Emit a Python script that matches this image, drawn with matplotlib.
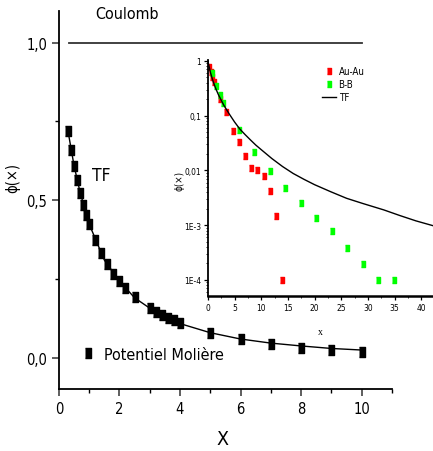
import matplotlib.pyplot as plt
from matplotlib.ticker import MultipleLocator, FixedLocator, LogLocator, NullFormatter

plt.rcParams['font.family'] = ['DejaVu Sans']
plt.rcParams['font.stretch'] = 'condensed'

# Moliere potential (main plot, squares)
mol_x = [0.3, 0.4, 0.5, 0.6, 0.7, 0.8, 0.9, 1.0, 1.2, 1.4, 1.6, 1.8, 2.0, 2.2, 2.5,
         3.0, 3.2, 3.4, 3.6, 3.8, 4.0, 5, 6, 7, 8, 9, 10]
mol_y = [0.72, 0.66, 0.61, 0.563, 0.523, 0.486, 0.453, 0.425, 0.374, 0.332, 0.297,
         0.267, 0.242, 0.220, 0.192, 0.157, 0.146, 0.135, 0.126, 0.118, 0.110,
         0.079, 0.058, 0.043, 0.032, 0.024, 0.018]

# Thomas-Fermi curve (main plot)
tf_x = [0.3, 0.5, 0.7, 1.0, 1.5, 2.0, 2.5, 3.0, 3.5, 4.0, 5, 6, 7, 8, 9, 10]
tf_y = [0.72, 0.61, 0.525, 0.424, 0.31, 0.243, 0.19, 0.157, 0.13, 0.108, 0.079,
        0.059, 0.046, 0.037, 0.029, 0.024]

# Coulomb
coul_x = [0.33, 10]
coul_y = [1.0, 1.0]

# inset data
au_x = [0.29, 0.58, 0.87, 1.16, 2.32, 3.48, 4.64, 5.8, 6.96, 8.12, 9.28, 10.44,
        11.6, 12.76, 13.92]
au_y = [0.77, 0.62, 0.50, 0.41, 0.20, 0.119, 0.0525, 0.0335, 0.0181, 0.0112,
        0.0103, 0.0079, 0.0043, 0.00147, 1e-4]
bb_x = [0.73, 1.45, 2.2, 2.9, 5.8, 8.7, 11.6, 14.5, 17.4, 20.3, 23.2, 26.1, 29.0,
        31.9, 34.8]
bb_y = [0.59, 0.354, 0.24, 0.168, 0.055, 0.0214, 0.0098, 0.0048, 0.0025, 0.00137,
        7.8e-4, 3.9e-4, 1.95e-4, 1e-4, 1e-4]
tfi_x = [0, 0.5, 1, 1.5, 2, 3, 4, 5, 6, 7, 8, 9, 10, 12, 14, 16, 18, 20, 23, 26,
         29, 33, 36, 39, 42.2]
tfi_y = [1, 0.61, 0.42, 0.31, 0.24, 0.155, 0.108, 0.077, 0.057, 0.045, 0.036,
         0.029, 0.024, 0.0165, 0.0118, 0.0088, 0.0069, 0.0055, 0.0041, 0.0031,
         0.0025, 0.0019, 0.0015, 0.0012, 0.00098]

rect = [(-0.38, -0.5), (0.38, -0.5), (0.38, 0.5), (-0.38, 0.5)]

fig = plt.figure(figsize=(4.33, 4.52), dpi=100)
ax = fig.add_axes([0.136, 0.137, 0.769, 0.836])

ax.plot(coul_x, coul_y, color='#333333', lw=1.3)
ax.plot(tf_x, tf_y, color='black', lw=1.0)
ax.plot(mol_x, mol_y, ls='none', marker=rect, ms=6.6, color='black',
        label='Potentiel Molière')

ax.set_xlim(0, 11)
ax.set_ylim(-0.1, 1.1)
ax.spines['top'].set_visible(False)
ax.spines['right'].set_visible(False)
for s in ['left', 'bottom']:
    ax.spines[s].set_linewidth(1.3)
ax.xaxis.set_major_locator(FixedLocator([0, 2, 4, 6, 8, 10]))
ax.xaxis.set_minor_locator(FixedLocator([1, 3, 5, 7, 9, 11]))
ax.yaxis.set_major_locator(FixedLocator([0.0, 0.5, 1.0]))
ax.yaxis.set_minor_locator(FixedLocator([0.25, 0.75]))
ax.set_yticklabels(['0,0', '0,5', '1,0'])
ax.tick_params(which='major', length=5, width=1.1, labelsize=10.5, color='#333333')
ax.tick_params(which='minor', length=3, width=1.0)
ax.set_xlabel('X', fontsize=14)
ax.xaxis.set_label_coords(0.49, -0.105)
ax.set_ylabel('ϕ(×)', fontsize=10.5)
ax.yaxis.set_label_coords(-0.115, 0.56)

ax.text(1.2, 1.08, 'Coulomb', fontsize=11.5)
ax.text(1.1, 0.565, 'TF', fontsize=12.5)
ax.legend(loc='lower left', bbox_to_anchor=(0.055, 0.055), frameon=False,
          fontsize=11.5, handlelength=0.6, handletextpad=0.7, borderaxespad=0)

# inset
ins = fig.add_axes([0.480, 0.343, 0.52, 0.522])
ins.plot(au_x, au_y, ls='none', marker=rect, ms=4.5, color='#ff0000', label='Au-Au')
ins.plot(bb_x, bb_y, ls='none', marker=rect, ms=4.5, color='#00ff00', label='B-B')
ins.plot(tfi_x, tfi_y, color='black', lw=1.0, label='TF')
ins.set_yscale('log')
ins.set_xlim(0, 42.2)
ins.set_ylim(5.1e-5, 1.04)
ins.spines['top'].set_visible(False)
ins.spines['right'].set_visible(False)
ins.spines['bottom'].set_linewidth(1.8)
ins.spines['left'].set_linewidth(1.3)
ins.patch.set_alpha(0)
ins.xaxis.set_major_locator(MultipleLocator(5))
ins.xaxis.set_minor_locator(MultipleLocator(2.5))
ins.yaxis.set_major_locator(FixedLocator([1e-4, 1e-3, 1e-2, 1e-1, 1]))
ins.set_yticklabels(['1E-4', '1E-3', '0,01', '0,1', '1'])
ins.yaxis.set_minor_locator(LogLocator(base=10, subs=range(2, 10)))
ins.yaxis.set_minor_formatter(NullFormatter())
ins.tick_params(which='major', length=3, width=0.9, labelsize=6, pad=2)
ins.tick_params(which='minor', length=1.5, width=0.6)
ins.set_xlabel('x', fontsize=7, family='Liberation Serif')
ins.xaxis.set_label_coords(0.5, -0.13)
ins.set_ylabel('ϕ(×)', fontsize=7)
ins.yaxis.set_label_coords(-0.105, 0.49)
ins.legend(loc='upper left', bbox_to_anchor=(0.49, 0.99), frameon=False,
           fontsize=7, handlelength=1.4, handletextpad=0.3, labelspacing=0.3,
           borderaxespad=0)

fig.savefig('out.png', dpi=100)
